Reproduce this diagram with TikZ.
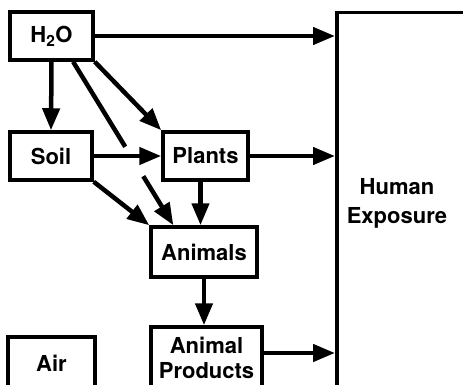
\documentclass[tikz,border=0pt]{standalone}
\usepackage{fontspec}
\setmainfont{TeX Gyre Heros}
\usetikzlibrary{arrows.meta,calc}

\tikzset{
  box/.style={draw, line width=3.5pt, inner sep=0pt, align=center,
    font=\fontsize{22}{29}\selectfont\bfseries},
  flow/.style={line width=4.5pt, -{Triangle[length=22pt, width=17pt]}},
  bare/.style={line width=4.5pt},
}

\begin{document}
\begin{tikzpicture}[x=1pt, y=1pt]
\useasboundingbox (0,0) rectangle (463,384);

% sources and pathways
\node[box, minimum width=83pt, minimum height=48pt] (h2o) at (51.5,348) {H\textsubscript{2}O};
\node[box, minimum width=82pt, minimum height=48pt] (soil) at (51,228) {Soil};
\node[box, minimum width=85pt, minimum height=48pt] (plants) at (205.5,228) {Plants};
\node[box, minimum width=106pt, minimum height=50pt] (animals) at (204,132) {Animals};
\node[box, minimum width=111pt, minimum height=62pt, font=\fontsize{22}{25}\selectfont\bfseries]
  (products) at (206.5,26) {Animal\\Products};
\node[box, minimum width=87pt, minimum height=52pt] (air) at (51.5,21) {Air};

% receptor
\node[box, anchor=north west, minimum width=185pt, minimum height=400pt] (human) at (335,373) {};
\node[font=\fontsize{22}{29}\selectfont\bfseries, align=center] (humanlbl) at (397,180.5) {Human\\Exposure};

\draw[flow] (h2o.east) -- (h2o.east -| human.west);
\draw[flow] (plants.east) -- (plants.east -| human.west);
\draw[flow] ([yshift=5pt]products.east) -- ([yshift=5pt]products.east -| human.west);

\draw[flow] (h2o.south) -- (soil.north);
\draw[flow] (h2o.south east) -- (plants.north west);

% h2o to animals, broken where it passes under soil -> plants
\coordinate (diagA) at ($(h2o.south)!0.5!(h2o.south east)$);
\coordinate (diagB) at ($(animals.north west)!0.22!(animals.north east)$);
\path (diagA) -- (diagB) coordinate[pos=0.52] (gapA) coordinate[pos=0.70] (gapB);
\draw[bare] (diagA) -- (gapA);
\draw[flow] (gapB) -- (diagB);

\draw[flow] (soil.east) -- (plants.west);
\draw[flow] (soil.south east) -- (animals.north west);
\draw[flow] ([xshift=-5pt]plants.south) -- ([xshift=-5pt]plants.south |- animals.north);
\draw[flow] (animals.south) -- (animals.south |- products.north);
\end{tikzpicture}
\end{document}
